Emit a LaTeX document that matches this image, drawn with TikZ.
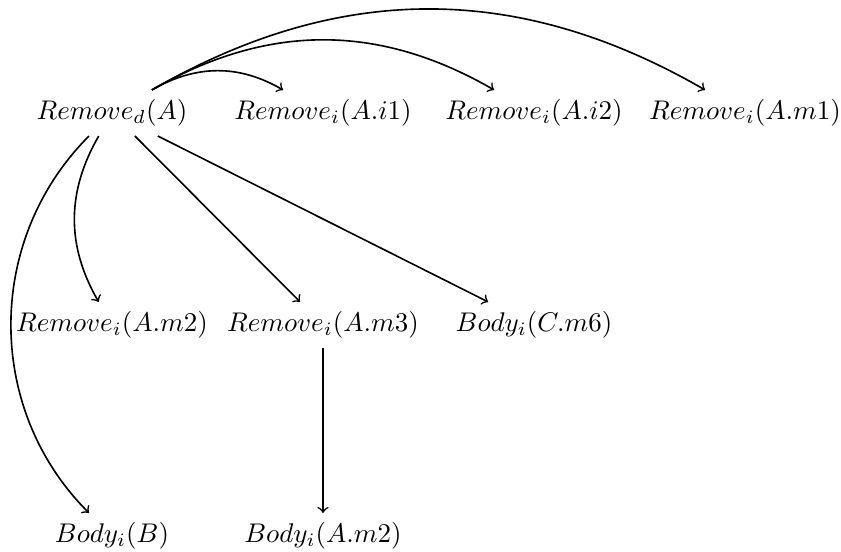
\documentclass[tikz,border=0pt]{standalone}
\begin{document}
\begin{tikzpicture}[x=0.3704pt,y=0.3704pt,
  lab/.style={inner sep=3.333pt},
  arr/.style={->,semithick}]
\useasboundingbox (0,0) rectangle (841,552);
\node[lab] (a)   at (112,439) {$Remove_d(A)$};
\node[lab] (i1)  at (323,439) {$Remove_i(A.i1)$};
\node[lab] (i2)  at (534,439) {$Remove_i(A.i2)$};
\node[lab] (m1)  at (745,439) {$Remove_i(A.m1)$};
\node[lab] (m2)  at (112,227) {$Remove_i(A.m2)$};
\node[lab] (m3)  at (323,227) {$Remove_i(A.m3)$};
\node[lab] (c6)  at (534,227) {$Body_i(C.m6)$};
\node[lab] (b)   at (112,16)  {$Body_i(B)$};
\node[lab] (am2) at (323,16)  {$Body_i(A.m2)$};
\draw[arr] (a) to[bend left] (i1);
\draw[arr] (a) to[bend left] (i2);
\draw[arr] (a) to[bend left] (m1);
\draw[arr] (a) to[bend right] (m2);
\draw[arr] (a) to[bend right=45] (b);
\draw[arr] (a) -- (m3);
\draw[arr] (a) -- (c6);
\draw[arr] (m3) -- (am2);
\end{tikzpicture}
\end{document}
